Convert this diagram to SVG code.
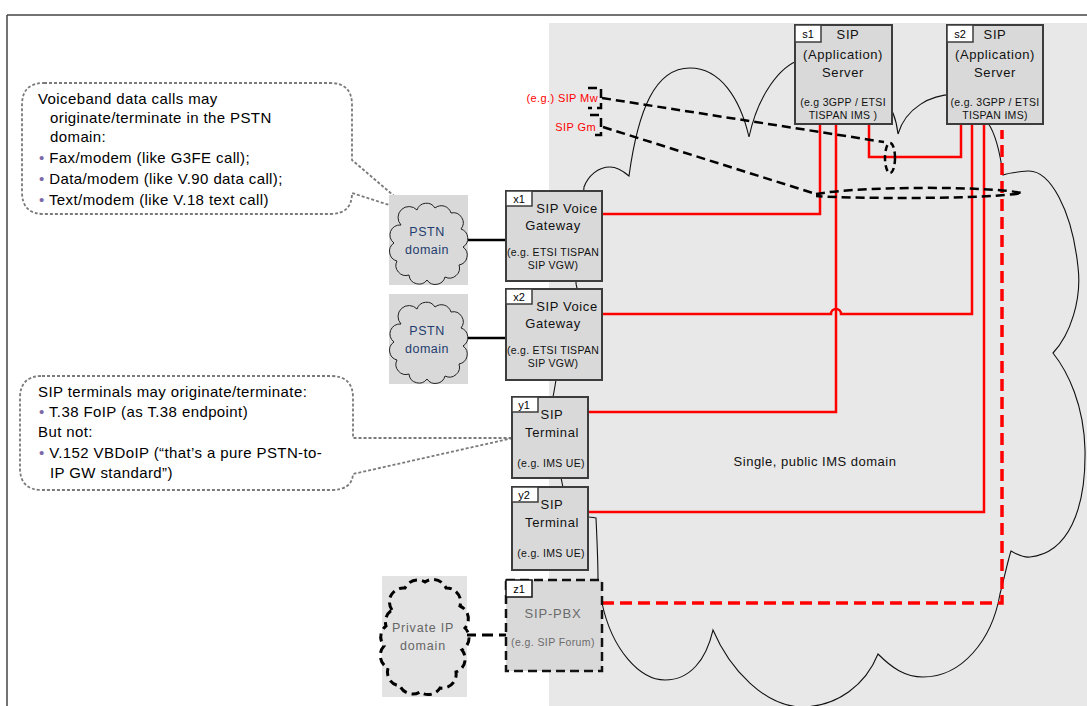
<svg xmlns="http://www.w3.org/2000/svg" width="1087" height="706" viewBox="0 0 1087 706">
<style>
text { font-family: "Liberation Sans", Arial, sans-serif; }
.box { fill:#d9d9d9; stroke:#3c3c3c; stroke-width:2; }
.boxd { fill:#d9d9d9; stroke:#111; stroke-width:2.5; stroke-dasharray:9 5; }
.tab { fill:#fff; stroke:#3c3c3c; stroke-width:1.5; }
.tabt { font-size:11px; fill:#000; text-anchor:middle; }
.t13 { font-size:13px; letter-spacing:0.6px; text-anchor:middle; fill:#111; }
.t11 { font-size:10.5px; letter-spacing:0.3px; text-anchor:middle; fill:#111; }
.g13 { font-size:13px; letter-spacing:0.8px; text-anchor:middle; fill:#6b6b6b; }
.g11 { font-size:10.5px; letter-spacing:0.4px; text-anchor:middle; fill:#6b6b6b; }
.red { fill:none; stroke:#ff0000; stroke-width:2.5; }
.reddash { fill:none; stroke:#ff0000; stroke-width:3.5; stroke-dasharray:12 6; }
.bdash { fill:none; stroke:#000; stroke-width:2.5; stroke-dasharray:9 5; }
.callout { fill:none; stroke:#7a7a7a; stroke-width:1.8; stroke-dasharray:3 2; }
.ct { font-size:15px; letter-spacing:0.4px; fill:#000; }
.bul { fill:#7a6aa8; }
.pstn { font-size:12.5px; fill:#1f3d6e; text-anchor:middle; letter-spacing:0.5px; }
.priv { font-size:12.5px; fill:#666; text-anchor:middle; letter-spacing:0.8px; }
.rl { font-size:11px; fill:#ff0000; text-anchor:end; letter-spacing:0.4px; }
</style>

<!-- page frame -->
<line x1="7" y1="15" x2="1087" y2="15" stroke="#444" stroke-width="1.5"/>
<line x1="7" y1="15" x2="7" y2="706" stroke="#444" stroke-width="1.5"/>

<!-- IMS domain background -->
<g id="ims-domain">
<rect x="549" y="23" width="538" height="683" fill="#e8e8e8"/>
<path fill="none" stroke="#111" stroke-width="1.1" d="M 602,603 C 612,650 640,680 665,680 C 690,680 706,660 713,630 C 730,670 765,706 801,707 C 838,707 866,684 878,654 C 892,668 905,677 923,677 C 962,677 992,640 1000,594 C 1005,575 1008,560 1011,551 C 1018,555 1024,558 1030,557 C 1068,553 1086,510 1085,450 C 1084,405 1068,372 1053,353 C 1070,335 1082,300 1078,267 C 1072,210 1050,170 1028,171 C 1015,172 1008,173 1003,175 C 1000,152 995,133 988,123 L 960,95 C 930,92 905,110 898,134 C 897,125 895,118 893,113 L 800,60 C 780,66 758,95 749,137 C 740,98 720,68 690,68 C 655,68 638,110 629,176 C 622,170 616,167 610,167 C 598,167 588,176 584,187 L 576,283 C 576,285 577,287 577,289 L 556,380 C 555,386 554,392 553,397 L 561,478 C 562,481 562,484 563,487 L 589,517 C 592,517 594,518 596,518 C 597,540 598,560 598,580 Z"/>
<text x="815" y="466" class="t13" style="letter-spacing:0.5px">Single, public IMS domain</text>
</g>

<!-- callouts -->
<g id="callout-pstn">
<path class="callout" d="M 44,83 H 330 Q 352,83 352,105 V 160 L 414,213 L 352,193 Q 352,214 330,214 H 44 Q 22,214 22,192 V 105 Q 22,83 44,83 Z"/>
<text class="ct" x="38" y="104">Voiceband data calls may</text>
<text class="ct" x="50" y="123">originate/terminate in the PSTN</text>
<text class="ct" x="50" y="142">domain:</text>
<text class="ct" x="39" y="163"><tspan class="bul">•</tspan> Fax/modem (like G3FE call);</text>
<text class="ct" x="39" y="184"><tspan class="bul">•</tspan> Data/modem (like V.90 data call);</text>
<text class="ct" x="39" y="205"><tspan class="bul">•</tspan> Text/modem (like V.18 text call)</text>
</g>

<g id="callout-terminal">
<path class="callout" d="M 42,376 H 331 Q 353,376 353,398 V 438 L 513,438 L 353,474 Q 352,490 331,490 H 42 Q 20,490 20,468 V 398 Q 20,376 42,376 Z"/>
<text class="ct" x="38" y="397">SIP terminals may originate/terminate:</text>
<text class="ct" x="39" y="417"><tspan class="bul">•</tspan> T.38 FoIP (as T.38 endpoint)</text>
<text class="ct" x="38" y="437">But not:</text>
<text class="ct" x="39" y="458"><tspan class="bul">•</tspan> V.152 VBDoIP (“that’s a pure PSTN-to-</text>
<text class="ct" x="50" y="478">IP GW standard”)</text>
</g>

<!-- connectors -->
<g id="connectors">
<path class="red" d="M 602,214 H 820 V 124"/>
<path class="red" d="M 588,412 H 836 V 124"/>
<path class="red" d="M 602,314 H 831 A 5 5 0 0 1 841,314 H 972 V 124"/>
<path class="red" d="M 588,512 H 984 V 124"/>
<path class="red" d="M 869,124 V 157 H 961 V 124"/>
<path class="reddash" d="M 602,603 H 1002 V 130"/>
<line x1="464" y1="240" x2="506" y2="240" stroke="#000" stroke-width="2.5"/>
<line x1="464" y1="338" x2="506" y2="338" stroke="#000" stroke-width="2.5"/>
<line x1="465" y1="635" x2="506" y2="635" class="bdash" style="stroke-dasharray:11 6;stroke-width:3"/>
<path class="bdash" d="M 588,88 H 601 V 108 H 588"/>
<path class="bdash" d="M 590,115 H 601 V 135 H 592"/>
<path class="bdash" d="M 602,98 L 884,142"/>
<ellipse class="bdash" cx="890" cy="158" rx="5" ry="15" style="stroke-dasharray:6 4"/>
<path class="bdash" d="M 603,127 L 816,194"/>
<path class="bdash" d="M 816,194 C 860,186 990,186 1022,193 C 990,199 860,199 816,196"/>
<text class="rl" x="598" y="102">(e.g.) SIP Mw</text>
<text class="rl" x="596" y="131">SIP Gm</text>
</g>

<!-- nodes -->
<g id="s1">
<rect class="box" x="795" y="25" width="97" height="99"/>
<rect class="tab" x="795" y="25" width="26" height="17"/>
<text class="tabt" x="808" y="38">s1</text>
<text class="t13" x="848" y="39">SIP</text>
<text class="t13" x="843" y="59">(Application)</text>
<text class="t13" x="843" y="77">Server</text>
<text class="t11" x="843" y="106">(e.g 3GPP / ETSI</text>
<text class="t11" x="843" y="119">TISPAN IMS )</text>
</g>

<g id="s2">
<rect class="box" x="947" y="25" width="96" height="99"/>
<rect class="tab" x="947" y="25" width="26" height="17"/>
<text class="tabt" x="960" y="38">s2</text>
<text class="t13" x="995" y="39">SIP</text>
<text class="t13" x="995" y="59">(Application)</text>
<text class="t13" x="995" y="77">Server</text>
<text class="t11" x="995" y="106">(e.g. 3GPP / ETSI</text>
<text class="t11" x="995" y="119">TISPAN IMS)</text>
</g>

<g id="pstn1">
<rect x="389" y="195" width="79" height="90" fill="#d9d9d9"/>
<path fill="none" stroke="#222" stroke-width="1" d="M 401,225 A 10 10 0 0 1 417,210 A 10 10 0 0 1 435,208 A 10 10 0 0 1 451,213 A 10 10 0 0 1 461,229 A 10 10 0 0 1 463,247 A 10 10 0 0 1 459,265 A 10 10 0 0 1 445,277 A 10 10 0 0 1 427,280 A 10 10 0 0 1 409,275 A 10 10 0 0 1 397,261 A 10 10 0 0 1 394,243 A 10 10 0 0 1 401,225 Z"/>
<text class="pstn" x="427" y="236">PSTN</text>
<text class="pstn" x="427" y="254">domain</text>
</g>

<g id="pstn2">
<rect x="389" y="294" width="79" height="90" fill="#d9d9d9"/>
<path fill="none" stroke="#222" stroke-width="1" d="M 401,324 A 10 10 0 0 1 417,309 A 10 10 0 0 1 435,307 A 10 10 0 0 1 451,312 A 10 10 0 0 1 461,328 A 10 10 0 0 1 463,346 A 10 10 0 0 1 459,364 A 10 10 0 0 1 445,376 A 10 10 0 0 1 427,379 A 10 10 0 0 1 409,374 A 10 10 0 0 1 397,360 A 10 10 0 0 1 394,342 A 10 10 0 0 1 401,324 Z"/>
<text class="pstn" x="427" y="335">PSTN</text>
<text class="pstn" x="427" y="353">domain</text>
</g>

<g id="x1">
<rect class="box" x="506" y="191" width="96" height="90"/>
<rect class="tab" x="506" y="191" width="26" height="15"/>
<text class="tabt" x="519" y="203">x1</text>
<text class="t13" x="567" y="213">SIP Voice</text>
<text class="t13" x="553" y="230">Gateway</text>
<text class="t11" x="553" y="256">(e.g. ETSI TISPAN</text>
<text class="t11" x="553" y="269">SIP VGW)</text>
</g>

<g id="x2">
<rect class="box" x="506" y="289" width="96" height="91"/>
<rect class="tab" x="506" y="289" width="26" height="15"/>
<text class="tabt" x="519" y="301">x2</text>
<text class="t13" x="567" y="311">SIP Voice</text>
<text class="t13" x="553" y="328">Gateway</text>
<text class="t11" x="553" y="354">(e.g. ETSI TISPAN</text>
<text class="t11" x="553" y="367">SIP VGW)</text>
</g>

<g id="y1">
<rect class="box" x="512" y="397" width="76" height="81"/>
<rect class="tab" x="512" y="397" width="26" height="15"/>
<text class="tabt" x="524" y="409">y1</text>
<text class="t13" x="552" y="419">SIP</text>
<text class="t13" x="552" y="437">Terminal</text>
<text class="t11" x="551" y="467">(e.g. IMS UE)</text>
</g>

<g id="y2">
<rect class="box" x="512" y="487" width="76" height="83"/>
<rect class="tab" x="512" y="487" width="26" height="15"/>
<text class="tabt" x="524" y="499">y2</text>
<text class="t13" x="552" y="509">SIP</text>
<text class="t13" x="552" y="527">Terminal</text>
<text class="t11" x="551" y="557">(e.g. IMS UE)</text>
</g>

<g id="private-ip">
<rect x="382" y="576" width="85" height="121" fill="#e3e3e3"/>
<path fill="none" stroke="#000" stroke-width="3" stroke-dasharray="8 5" d="M 392,610 A 14 14 0 0 1 405,588 A 14 14 0 0 1 425,582 A 14 14 0 0 1 446,588 A 14 14 0 0 1 460,606 A 14 14 0 0 1 465,628 A 14 14 0 0 1 462,650 A 14 14 0 0 1 456,672 A 14 14 0 0 1 440,688 A 14 14 0 0 1 420,692 A 14 14 0 0 1 400,686 A 14 14 0 0 1 388,668 A 14 14 0 0 1 384,646 A 14 14 0 0 1 386,626 A 14 14 0 0 1 392,610 Z"/>
<text class="priv" x="423" y="632">Private IP</text>
<text class="priv" x="423" y="650">domain</text>
</g>

<g id="z1">
<rect class="boxd" x="506" y="580" width="96" height="91"/>
<rect class="tab" x="506" y="580" width="26" height="17" style="stroke:#111"/>
<text class="tabt" x="519" y="593">z1</text>
<text class="g13" x="553" y="618">SIP-PBX</text>
<text class="g11" x="553" y="646">(e.g. SIP Forum)</text>
</g>
</svg>
